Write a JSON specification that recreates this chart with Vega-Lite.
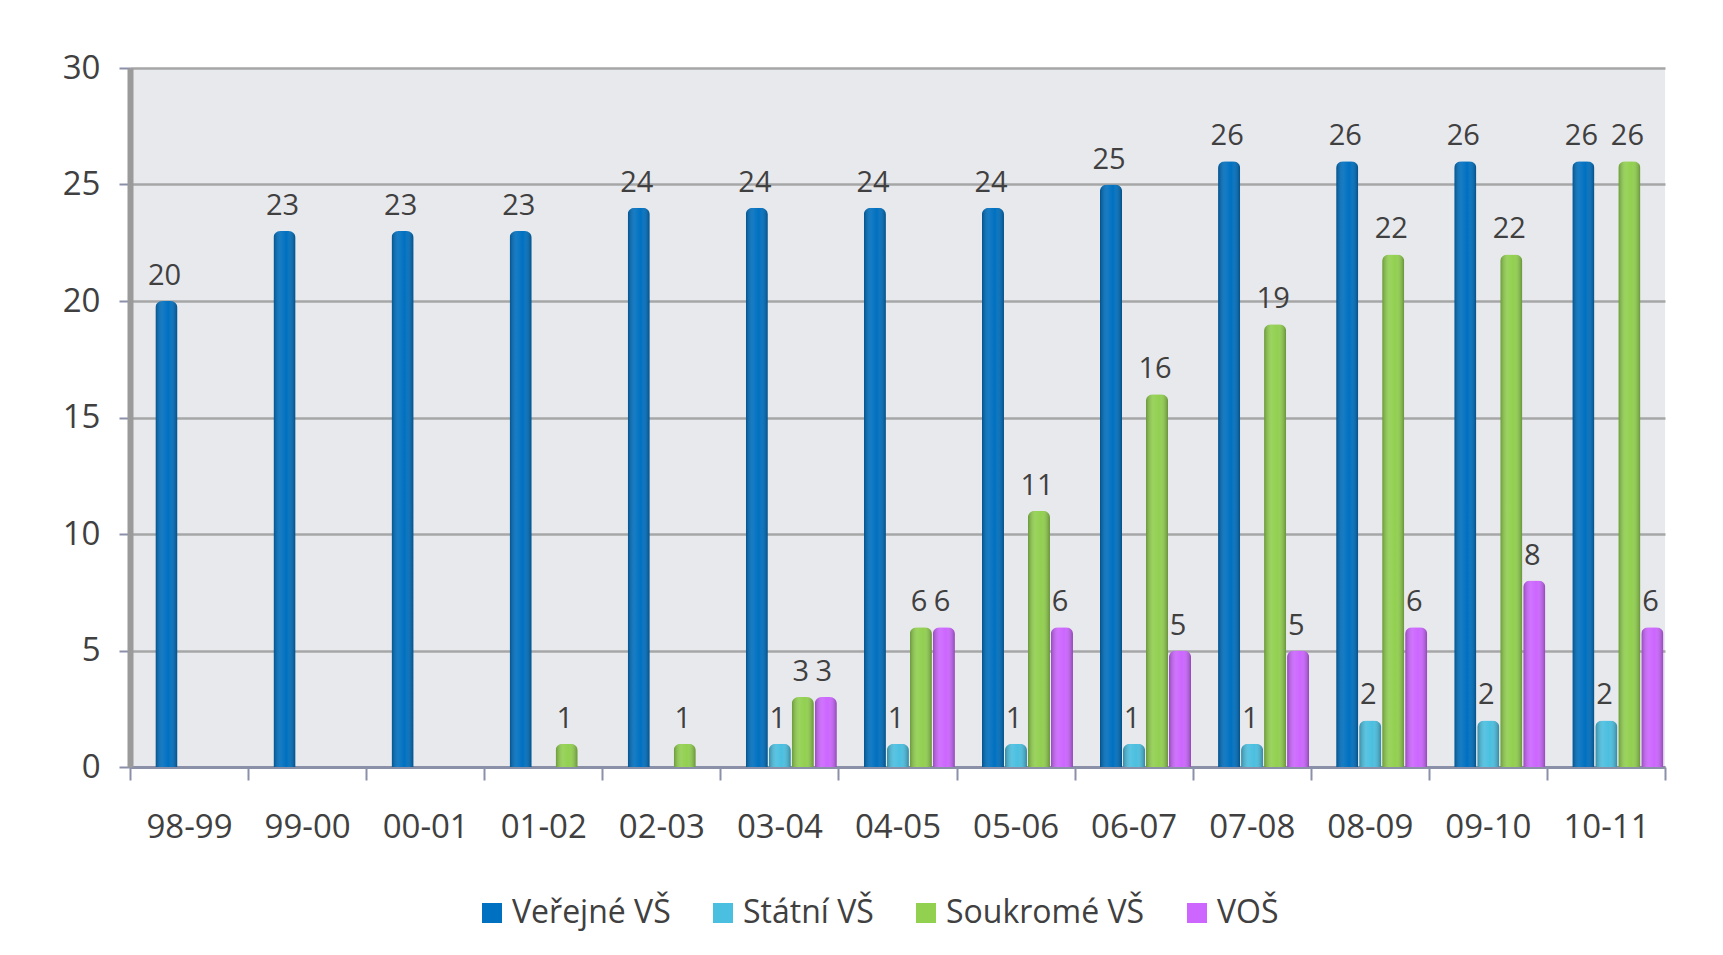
{
  "$schema": "https://vega.github.io/schema/vega-lite/v6.json",
  "width": 1535,
  "height": 699,
  "autosize": {"type": "none"},
  "padding": {"left": 130, "top": 68, "right": 58, "bottom": 188},
  "background": "white",
  "config": {
    "font": "Open Sans",
    "view": {"fill": "#e8e9ed", "stroke": null}
  },
  "data": {
    "values": [
      {"rok": "98-99", "typ": "Veřejné VŠ", "pocet": 20},
      {"rok": "99-00", "typ": "Veřejné VŠ", "pocet": 23},
      {"rok": "00-01", "typ": "Veřejné VŠ", "pocet": 23},
      {"rok": "01-02", "typ": "Veřejné VŠ", "pocet": 23},
      {"rok": "01-02", "typ": "Soukromé VŠ", "pocet": 1},
      {"rok": "02-03", "typ": "Veřejné VŠ", "pocet": 24},
      {"rok": "02-03", "typ": "Soukromé VŠ", "pocet": 1},
      {"rok": "03-04", "typ": "Veřejné VŠ", "pocet": 24},
      {"rok": "03-04", "typ": "Státní VŠ", "pocet": 1},
      {"rok": "03-04", "typ": "Soukromé VŠ", "pocet": 3},
      {"rok": "03-04", "typ": "VOŠ", "pocet": 3},
      {"rok": "04-05", "typ": "Veřejné VŠ", "pocet": 24},
      {"rok": "04-05", "typ": "Státní VŠ", "pocet": 1},
      {"rok": "04-05", "typ": "Soukromé VŠ", "pocet": 6},
      {"rok": "04-05", "typ": "VOŠ", "pocet": 6},
      {"rok": "05-06", "typ": "Veřejné VŠ", "pocet": 24},
      {"rok": "05-06", "typ": "Státní VŠ", "pocet": 1},
      {"rok": "05-06", "typ": "Soukromé VŠ", "pocet": 11},
      {"rok": "05-06", "typ": "VOŠ", "pocet": 6},
      {"rok": "06-07", "typ": "Veřejné VŠ", "pocet": 25},
      {"rok": "06-07", "typ": "Státní VŠ", "pocet": 1},
      {"rok": "06-07", "typ": "Soukromé VŠ", "pocet": 16},
      {"rok": "06-07", "typ": "VOŠ", "pocet": 5},
      {"rok": "07-08", "typ": "Veřejné VŠ", "pocet": 26},
      {"rok": "07-08", "typ": "Státní VŠ", "pocet": 1},
      {"rok": "07-08", "typ": "Soukromé VŠ", "pocet": 19},
      {"rok": "07-08", "typ": "VOŠ", "pocet": 5},
      {"rok": "08-09", "typ": "Veřejné VŠ", "pocet": 26},
      {"rok": "08-09", "typ": "Státní VŠ", "pocet": 2},
      {"rok": "08-09", "typ": "Soukromé VŠ", "pocet": 22},
      {"rok": "08-09", "typ": "VOŠ", "pocet": 6},
      {"rok": "09-10", "typ": "Veřejné VŠ", "pocet": 26},
      {"rok": "09-10", "typ": "Státní VŠ", "pocet": 2},
      {"rok": "09-10", "typ": "Soukromé VŠ", "pocet": 22},
      {"rok": "09-10", "typ": "VOŠ", "pocet": 8},
      {"rok": "10-11", "typ": "Veřejné VŠ", "pocet": 26},
      {"rok": "10-11", "typ": "Státní VŠ", "pocet": 2},
      {"rok": "10-11", "typ": "Soukromé VŠ", "pocet": 26},
      {"rok": "10-11", "typ": "VOŠ", "pocet": 6}
    ]
  },
  "encoding": {
    "x": {
      "field": "rok",
      "type": "nominal",
      "sort": null,
      "scale": {"paddingInner": 0, "paddingOuter": 0},
      "axis": {
        "title": null,
        "labelAngle": 0,
        "labelFontSize": 33,
        "labelColor": "#404040",
        "labelPadding": 31,
        "tickBand": "extent",
        "tickSize": 13,
        "tickWidth": 2,
        "tickColor": "#8a90a8",
        "domainColor": "#8a90a8",
        "domainWidth": 3
      }
    },
    "xOffset": {
      "field": "typ",
      "type": "nominal",
      "scale": {
        "domain": ["Veřejné VŠ", "Státní VŠ", "Soukromé VŠ", "VOŠ"],
        "range": [23, 115],
        "paddingInner": 0.0,
        "paddingOuter": 0
      }
    },
    "y": {
      "field": "pocet",
      "type": "quantitative",
      "scale": {"domain": [0, 30]},
      "axis": {
        "title": null,
        "values": [0, 5, 10, 15, 20, 25, 30],
        "labelFontSize": 33,
        "labelColor": "#404040",
        "labelPadding": 19,
        "tickSize": 11,
        "tickWidth": 2,
        "tickColor": "#8a90a8",
        "domain": true,
        "domainColor": "#9a9a9a",
        "domainWidth": 6,
        "grid": true,
        "gridColor": "#a6a6a6",
        "gridWidth": 2.5
      }
    }
  },
  "layer": [
    {
      "mark": {"type": "bar", "cornerRadiusTopLeft": 7, "cornerRadiusTopRight": 7, "width": {"band": 0.96}},
      "encoding": {
        "color": {
          "field": "typ",
          "type": "nominal",
          "scale": {
            "domain": ["Veřejné VŠ", "Státní VŠ", "Soukromé VŠ", "VOŠ"],
            "range": ["#0070c0", "#4bbfe0", "#92d050", "#cc66ff"]
          },
          "legend": {
            "title": null,
            "orient": "none",
            "legendX": 346,
            "legendY": 829,
            "direction": "horizontal",
            "symbolType": "square",
            "symbolSize": 400,
            "symbolStrokeWidth": 0,
            "labelFontSize": 32,
            "labelColor": "#404040",
            "labelLimit": 400,
            "columnPadding": 36
          }
        }
      }
    },
    {
      "mark": {
        "type": "bar",
        "cornerRadiusTopLeft": 7,
        "cornerRadiusTopRight": 7,
        "width": {"band": 0.96},
        "fill": {
          "gradient": "linear",
          "x1": 0, "x2": 1, "y1": 0, "y2": 0,
          "stops": [
            {"offset": 0, "color": "rgba(0,0,0,0.28)"},
            {"offset": 0.35, "color": "rgba(255,255,255,0.08)"},
            {"offset": 0.6, "color": "rgba(255,255,255,0.0)"},
            {"offset": 1, "color": "rgba(0,0,0,0.3)"}
          ]
        }
      },
      "encoding": {}
    },
    {
      "mark": {"type": "text", "baseline": "bottom", "dy": -10, "fontSize": 29, "color": "#404040"},
      "encoding": {
        "text": {"field": "pocet", "type": "quantitative"}
      }
    }
  ]
}
